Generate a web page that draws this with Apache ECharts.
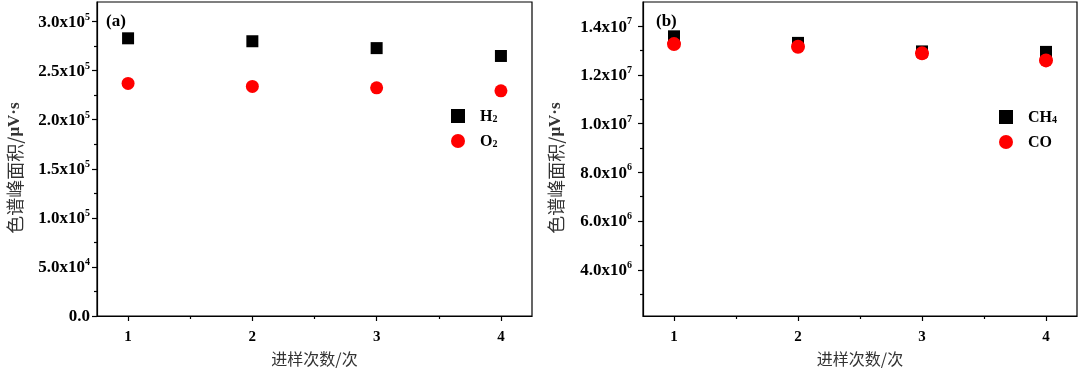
<!DOCTYPE html>
<html>
<head>
<meta charset="utf-8">
<script src="https://cdn.jsdelivr.net/npm/echarts@6/dist/echarts.min.js"></script>
<style>
html,body{margin:0;padding:0;background:#fff;}
#c{width:1080px;height:372px;}
</style>
</head>
<body>
<div id="c"></div>
<script>
// ---- data ----
const runs = [1, 2, 3, 4];
const h2 = [2.83e5, 2.80e5, 2.73e5, 2.65e5];
const o2 = [2.37e5, 2.34e5, 2.325e5, 2.295e5];
const ch4 = [1.359e7, 1.332e7, 1.297e7, 1.295e7];
const co = [1.327e7, 1.316e7, 1.289e7, 1.26e7];

const xMajor = [1, 2, 3, 4];
const xMinor = [1.5, 2.5, 3.5];
const leftMajor = [0, 5e4, 1e5, 1.5e5, 2e5, 2.5e5, 3e5];
const leftMinor = [2.5e4, 7.5e4, 1.25e5, 1.75e5, 2.25e5, 2.75e5];
const rightMajor = [4e6, 6e6, 8e6, 1e7, 1.2e7, 1.4e7];
const rightMinor = [3e6, 5e6, 7e6, 9e6, 1.1e7, 1.3e7];

const xTitle = '进样次数/次';
const yTitleCn = '色谱峰面积/';
const yTitleUnit = 'μV·s';

// ---- helpers ----
const SERIF = '"Liberation Serif", "Times New Roman", serif';
const CJK = '"Noto Sans CJK SC", sans-serif';

function sciFmt(v) {
  if (v === 0) return '{m|0.0}';
  const e = Math.floor(Math.log10(v) + 1e-9);
  const m = (v / Math.pow(10, e)).toFixed(1);
  return '{m|' + m + 'x10}{e|' + e + '}';
}
const sciRich = {
  m: {fontFamily: SERIF, fontWeight: 'bold', fontSize: 17, color: '#000', lineHeight: 19, verticalAlign: 'bottom'},
  e: {fontFamily: SERIF, fontWeight: 'bold', fontSize: 10, color: '#000', lineHeight: 19, verticalAlign: 'top'}
};
function subFmt(name) {
  return name.replace(/^([A-Za-z]+)(\d*)$/, function (a, b, c) {
    return '{n|' + b + '}' + (c ? '{s|' + c + '}' : '');
  });
}
const legendRich = {
  n: {fontFamily: SERIF, fontWeight: 'bold', fontSize: 16, color: '#000', lineHeight: 18, verticalAlign: 'bottom', padding: [0, 0, 0, 10]},
  s: {fontFamily: SERIF, fontWeight: 'bold', fontSize: 10, color: '#000', lineHeight: 18, verticalAlign: 'bottom', padding: [0, 0, 1, 0]}
};

const grids = [
  {left: 97, right: 548, top: 2, bottom: 54, show: true, borderColor: '#000', borderWidth: 1.2, backgroundColor: 'transparent'},
  {left: 643, right: 3, top: 2, bottom: 54, show: true, borderColor: '#000', borderWidth: 1.2, backgroundColor: 'transparent'}
];

function xAxes(gi) {
  return [
    {
      type: 'value', gridIndex: gi, position: 'bottom', min: 0.75, max: 4.25,
      axisLine: {show: true, lineStyle: {color: '#000', width: 1.2}},
      axisTick: {show: true, customValues: xMajor, length: 5, lineStyle: {color: '#000', width: 1.2}},
      axisLabel: {customValues: xMajor, margin: 14, fontFamily: SERIF, fontWeight: 'bold', fontSize: 15, color: '#000'},
      splitLine: {show: false},
      name: xTitle, nameLocation: 'middle', nameGap: 35,
      nameTextStyle: {fontFamily: CJK, fontSize: 16, color: '#333'}
    },
    {
      type: 'value', gridIndex: gi, position: 'bottom', min: 0.75, max: 4.25,
      axisLine: {show: false},
      axisTick: {show: true, customValues: xMinor, length: 3, lineStyle: {color: '#000', width: 1.2}},
      axisLabel: {show: false},
      splitLine: {show: false}
    }
  ];
}

function yAxes(gi, min, max, major, minor, gap, margin) {
  return [
    {
      type: 'value', gridIndex: gi, min: min, max: max, position: 'left',
      axisLine: {show: true, lineStyle: {color: '#000', width: 1.2}},
      axisTick: {show: true, customValues: major, length: 5, lineStyle: {color: '#000', width: 1.2}},
      axisLabel: {customValues: major, margin: margin, formatter: sciFmt, rich: sciRich},
      splitLine: {show: false},
      name: '{c|' + yTitleCn + '}{u|' + yTitleUnit + '}',
      nameLocation: 'middle', nameRotate: 90, nameGap: gap,
      nameTextStyle: {
        rich: {
          c: {fontFamily: CJK, fontSize: 18, color: '#333'},
          u: {fontFamily: SERIF, fontWeight: 'bold', fontSize: 17, color: '#333', padding: [0, 18, 0, 0]}
        }
      }
    },
    {
      type: 'value', gridIndex: gi, min: min, max: max, position: 'left',
      axisLine: {show: false},
      axisTick: {show: true, customValues: minor, length: 3, lineStyle: {color: '#000', width: 1.2}},
      axisLabel: {show: false},
      splitLine: {show: false}
    }
  ];
}

function pts(vals) { return runs.map((x, i) => [x, vals[i]]); }

const option = {
  animation: false,
  backgroundColor: '#fff',
  grid: grids,
  xAxis: [].concat(xAxes(0), xAxes(1)),
  yAxis: [].concat(
    yAxes(0, 0, 3.2e5, leftMajor, leftMinor, 73, 7),
    yAxes(1, 2.1e6, 1.5e7, rightMajor, rightMinor, 78, 11)
  ),
  title: [
    {text: '(a)', left: 101, top: 8, textStyle: {fontFamily: SERIF, fontWeight: 'bold', fontSize: 17, color: '#000'}},
    {text: '(b)', left: 651, top: 8, textStyle: {fontFamily: SERIF, fontWeight: 'bold', fontSize: 17, color: '#000'}}
  ],
  legend: [
    {
      data: ['H2', 'O2'], orient: 'vertical', left: 451, top: 109, itemGap: 9,
      itemWidth: 14, itemHeight: 14, padding: 0,
      formatter: subFmt, textStyle: {rich: legendRich}
    },
    {
      data: ['CH4', 'CO'], orient: 'vertical', left: 999, top: 110, itemGap: 9,
      itemWidth: 14, itemHeight: 14, padding: 0,
      formatter: subFmt, textStyle: {rich: legendRich}
    }
  ],
  series: [
    {name: 'H2', type: 'scatter', xAxisIndex: 0, yAxisIndex: 0, symbol: 'rect', symbolSize: 12,
      itemStyle: {color: '#000', opacity: 1}, data: pts(h2)},
    {name: 'O2', type: 'scatter', xAxisIndex: 0, yAxisIndex: 0, symbol: 'circle', symbolSize: 13,
      itemStyle: {color: '#ff0000', opacity: 1}, data: pts(o2)},
    {name: 'CH4', type: 'scatter', xAxisIndex: 2, yAxisIndex: 2, symbol: 'rect', symbolSize: 12,
      itemStyle: {color: '#000', opacity: 1}, data: pts(ch4)},
    {name: 'CO', type: 'scatter', xAxisIndex: 2, yAxisIndex: 2, symbol: 'circle', symbolSize: 14,
      itemStyle: {color: '#ff0000', opacity: 1}, data: pts(co)}
  ]
};

const chart = echarts.init(document.getElementById('c'), null, {renderer: 'canvas'});
chart.setOption(option);
</script>
</body>
</html>
